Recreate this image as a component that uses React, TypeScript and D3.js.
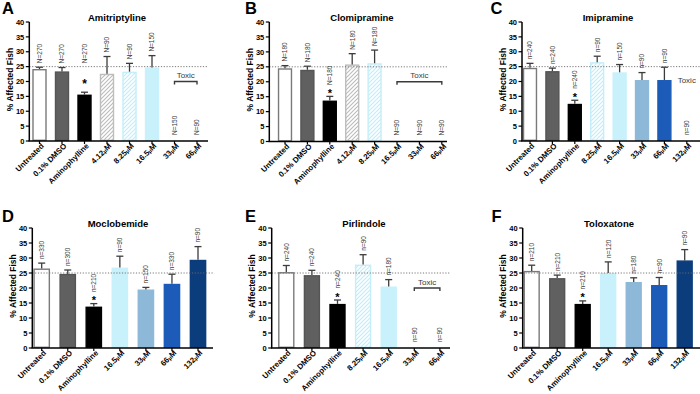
import React from "react";
import * as d3 from "d3";

const FONT = "'Liberation Sans', Arial, Helvetica, sans-serif";

// ---- data ----
const aCategories = ["Untreated", "0.1% DMSO", "Aminophylline", "4.12μM", "8.25μM", "16.5μM", "33μM", "66μM"];
const aMeans = [24.2, 23.4, 15.6, 22.6, 23.3, 24.7, 0, 0];
const aErrors = [0.6, 1.3, 0.8, 5.8, 2.8, 4.0, 0, 0];
const aCounts = ["N=270", "N=270", "N=270", "N=90", "N=90", "N=150", "N=150", "N=90"];

const bCategories = ["Untreated", "0.1% DMSO", "Aminophylline", "4.12μM", "8.25μM", "16.5μM", "33μM", "66μM"];
const bMeans = [24.5, 24.0, 13.7, 25.8, 26.2, 0, 0, 0];
const bErrors = [0.9, 1.2, 1.4, 3.6, 4.4, 0, 0, 0];
const bCounts = ["N=180", "N=180", "N=180", "N=180", "N=180", "N=90", "N=90", "N=90"];

const cCategories = ["Untreated", "0.1% DMSO", "Aminophylline", "8.25μM", "16.5μM", "33μM", "66μM", "132μM"];
const cMeans = [24.6, 23.5, 12.5, 26.5, 23.1, 20.5, 20.5, 0];
const cErrors = [1.5, 1.0, 1.2, 2.0, 2.6, 2.5, 4.3, 0];
const cCounts = ["n=240", "n=240", "n=240", "n=90", "n=150", "n=90", "n=90", "n=90"];

const dCategories = ["Untreated", "0.1% DMSO", "Aminophylline", "16.5μM", "33μM", "66μM", "132μM"];
const dMeans = [26.5, 24.7, 13.8, 26.8, 19.5, 21.4, 29.4];
const dErrors = [1.8, 1.3, 1.0, 3.8, 0.7, 3.2, 4.4];
const dCounts = ["n=330", "n=300", "n=210", "n=90", "n=150", "n=330", "n=90"];

const eCategories = ["Untreated", "0.1% DMSO", "Aminophylline", "8.25μM", "16.5μM", "33μM", "66μM"];
const eMeans = [25.3, 24.3, 14.7, 27.8, 20.5, 0, 0];
const eErrors = [2.2, 1.6, 1.3, 3.3, 2.3, 0, 0];
const eCounts = ["n=240", "n=240", "n=240", "n=90", "n=180", "n=90", "n=90"];

const fCategories = ["Untreated", "0.1% DMSO", "Aminophylline", "16.5μM", "33μM", "66μM", "132μM"];
const fMeans = [25.7, 23.3, 14.7, 25.0, 22.0, 21.0, 29.2];
const fErrors = [1.9, 1.0, 1.0, 3.7, 1.4, 2.5, 3.6];
const fCounts = ["n=210", "n=210", "n=210", "n=120", "n=180", "n=90", "n=90"];

const yTicks = [0, 5, 10, 15, 20, 25, 30, 35, 40];
const baseline = 25;
const toxicLevel = 20;

// bar look, keyed by category
const barStyle: Record<string, { fill: string; stroke: string }> = {
  "Untreated": { fill: "#ffffff", stroke: "#7a7a7a" },
  "0.1% DMSO": { fill: "#606060", stroke: "#555555" },
  "Aminophylline": { fill: "#000000", stroke: "#000000" },
  "4.12μM": { fill: "url(#hatchGrey)", stroke: "#bdbdbd" },
  "8.25μM": { fill: "url(#hatchBlue)", stroke: "#c4eefa" },
  "16.5μM": { fill: "#c8f1fb", stroke: "#c8f1fb" },
  "33μM": { fill: "#8db8d8", stroke: "#8db8d8" },
  "66μM": { fill: "#1c5cb8", stroke: "#1c5cb8" },
  "132μM": { fill: "#0b3d7c", stroke: "#0b3d7c" },
};

type Panel = {
  letter: string;
  title: string;
  categories: string[];
  means: number[];
  errors: number[];
  counts: string[];
  toxic?: [number, number];
  starAbove?: boolean;
  // layout
  axisX: number;
  axisEnd: number;
  first: number;
  step: number;
  y0: number;
  y40: number;
  titleX: number;
  titleY: number;
  letterX: number;
  letterY: number;
};

const panels: Panel[] = [
  { letter: "A", title: "Amitriptyline", categories: aCategories, means: aMeans, errors: aErrors, counts: aCounts,
    toxic: [6, 7], starAbove: true,
    axisX: 29.3, axisEnd: 208, first: 39.5, step: 22.5, y0: 141, y40: 22, titleX: 117, titleY: 20.5, letterX: 2, letterY: 13.5 },
  { letter: "B", title: "Clomipramine", categories: bCategories, means: bMeans, errors: bErrors, counts: bCounts,
    toxic: [5, 7],
    axisX: 269.3, axisEnd: 447, first: 285, step: 22.4, y0: 141.5, y40: 22, titleX: 362, titleY: 20.5, letterX: 245, letterY: 13.5 },
  { letter: "C", title: "Imipramine", categories: cCategories, means: cMeans, errors: cErrors, counts: cCounts,
    toxic: [7, 7],
    axisX: 522, axisEnd: 700, first: 530, step: 22.4, y0: 141, y40: 22, titleX: 608, titleY: 20.5, letterX: 490.5, letterY: 13.5 },
  { letter: "D", title: "Moclobemide", categories: dCategories, means: dMeans, errors: dErrors, counts: dCounts,
    axisX: 32.3, axisEnd: 213, first: 41.7, step: 26.05, y0: 348, y40: 228, titleX: 118, titleY: 226.5, letterX: 2, letterY: 222 },
  { letter: "E", title: "Pirlindole", categories: eCategories, means: eMeans, errors: eErrors, counts: eCounts,
    toxic: [5, 6],
    axisX: 271.7, axisEnd: 450, first: 286.3, step: 25.6, y0: 348, y40: 228, titleX: 364, titleY: 226.5, letterX: 245, letterY: 222 },
  { letter: "F", title: "Toloxatone", categories: fCategories, means: fMeans, errors: fErrors, counts: fCounts,
    axisX: 522.7, axisEnd: 700, first: 531.7, step: 25.5, y0: 348, y40: 228, titleX: 609, titleY: 226.5, letterX: 491.5, letterY: 222 },
];

const CategoryLabel = ({ name }: { name: string }) => {
  if (name.endsWith("μM")) {
    const num = name.slice(0, -2);
    return (
      <>
        {num}
        <tspan fontSize={5.5}>μ</tspan>
        M
      </>
    );
  }
  return <>{name}</>;
};

const BarPanel = ({ p }: { p: Panel }) => {
  const n = p.categories.length;
  const x = d3.scaleBand<string>()
    .domain(p.categories)
    .range([p.first - p.step / 2, p.first + (n - 0.5) * p.step])
    .paddingInner(0.36)
    .paddingOuter(0.18);
  const y = d3.scaleLinear().domain([0, 40]).range([p.y0, p.y40]);
  const bw = x.bandwidth();
  const cx = (c: string) => (x(c) as number) + bw / 2;

  return (
    <g fontFamily={FONT}>
      <text x={p.letterX} y={p.letterY} fontSize={16.5} fontWeight="bold">{p.letter}</text>
      <text x={p.titleX} y={p.titleY} fontSize={9.5} fontWeight="bold" textAnchor="middle">{p.title}</text>

      {/* y label */}
      <text transform={`translate(${p.axisX - 16.5},${(p.y0 + p.y40) / 2 - 2}) rotate(-90)`}
        fontSize={8.5} fontWeight="bold" textAnchor="middle">% Affected Fish</text>

      {/* bars */}
      {p.categories.map((c, i) => {
        const v = p.means[i];
        if (v <= 0) return null;
        const s = barStyle[c];
        const sw = 1.4;
        return (
          <rect key={c} x={(x(c) as number) + sw / 2} y={y(v) + sw / 2}
            width={bw - sw} height={Math.max(0, y(0) - y(v) - sw)}
            fill={s.fill} stroke={s.stroke} strokeWidth={sw} />
        );
      })}

      {/* error bars */}
      {p.categories.map((c, i) => {
        const v = p.means[i];
        const e = p.errors[i];
        if (v <= 0 || e <= 0) return null;
        const xc = cx(c);
        return (
          <g key={c} stroke="#3c3c3c" strokeWidth={1.3}>
            <line x1={xc} x2={xc} y1={y(v)} y2={y(v + e)} />
            <line x1={xc - 3.5} x2={xc + 3.5} y1={y(v + e)} y2={y(v + e)} />
          </g>
        );
      })}

      {/* dotted 25% line */}
      <line x1={p.axisX} x2={p.axisEnd} y1={y(baseline)} y2={y(baseline)}
        stroke="#6a6a6a" strokeWidth={0.9} strokeDasharray="1.2,1.6" />

      {/* n labels + star */}
      {p.categories.map((c, i) => {
        const top = y(p.means[i] + p.errors[i]);
        const xc = cx(c);
        const isAmino = c === "Aminophylline";
        const lx = xc + 2.4;
        let ly = top - 4;
        if (p.means[i] <= 0) ly = y(0) - 6;
        let star = null;
        if (isAmino) {
          if (p.starAbove) {
            star = <text x={xc} y={top - 4} fontSize={12} textAnchor="middle" fontWeight="bold">*</text>;
            ly = top - 29;
          } else {
            star = <text x={xc} y={top + 0.5} fontSize={11} textAnchor="middle" fontWeight="bold">*</text>;
            ly = top - 11.5;
          }
        }
        return (
          <g key={c}>
            {star}
            <text transform={`translate(${lx},${ly}) rotate(-90)`} fontSize={6.5} fill="#3a3a3a">{p.counts[i]}</text>
          </g>
        );
      })}

      {/* toxic bracket */}
      {p.toxic && (() => {
        const [a, b] = p.toxic;
        const x1 = cx(p.categories[a]);
        const x2 = cx(p.categories[b]);
        const yt = y(toxicLevel);
        if (a === b) {
          return <text x={x1} y={yt + 1} fontSize={8} textAnchor="middle" fill="#3a3a3a">Toxic</text>;
        }
        return (
          <g>
            <path d={`M${x1},${yt + 3}V${yt}H${x2}V${yt + 3}`} fill="none" stroke="#3a3a3a" strokeWidth={1.4} />
            <text x={(x1 + x2) / 2} y={yt - 3.5} fontSize={8} textAnchor="middle" fill="#3a3a3a">Toxic</text>
          </g>
        );
      })()}

      {/* y axis */}
      <line x1={p.axisX} x2={p.axisX} y1={y(0)} y2={y(40)} stroke="#000" strokeWidth={1.5} />
      {yTicks.map((t) => (
        <g key={t}>
          <line x1={p.axisX - 3.5} x2={p.axisX} y1={y(t)} y2={y(t)} stroke="#000" strokeWidth={1.2} />
          <text x={p.axisX - 5} y={y(t)} dy="0.35em" fontSize={7.5} fontWeight="bold" textAnchor="end">{t}</text>
        </g>
      ))}

      {/* x axis */}
      <line x1={p.axisX - 0.75} x2={p.axisEnd} y1={y(0)} y2={y(0)} stroke="#000" strokeWidth={1.5} />
      {p.categories.map((c) => (
        <g key={c}>
          <line x1={cx(c)} x2={cx(c)} y1={y(0)} y2={y(0) + 3} stroke="#000" strokeWidth={1.2} />
          <text transform={`translate(${cx(c) + 3},${y(0) + 3.5}) rotate(-45)`} fontSize={7.8}
            fontWeight="bold" textAnchor="end" dy="0.35em">
            <CategoryLabel name={c} />
          </text>
        </g>
      ))}
    </g>
  );
};

export default function App() {
  return (
    <svg width={700} height={394} style={{ position: "absolute", left: 0, top: 0, background: "#fff" }}>
      <defs>
        <pattern id="hatchGrey" patternUnits="userSpaceOnUse" width={4} height={4}>
          <rect width={4} height={4} fill="#fff" />
          <path d="M-1,1 l2,-2 M0,4 l4,-4 M3,5 l2,-2" stroke="#bcbcbc" strokeWidth={1.1} />
        </pattern>
        <pattern id="hatchBlue" patternUnits="userSpaceOnUse" width={4} height={4}>
          <rect width={4} height={4} fill="#fff" />
          <path d="M-1,1 l2,-2 M0,4 l4,-4 M3,5 l2,-2" stroke="#bfeefb" strokeWidth={1.2} />
        </pattern>
      </defs>
      {panels.map((p) => <BarPanel key={p.letter} p={p} />)}
    </svg>
  );
}
